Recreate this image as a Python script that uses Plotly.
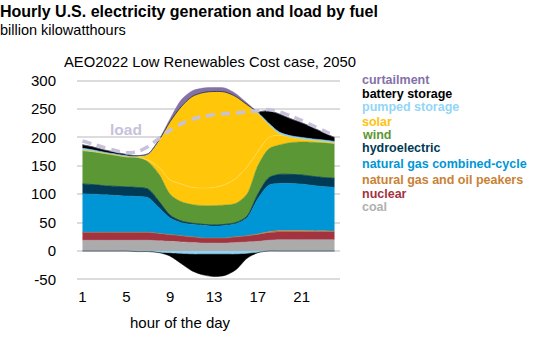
import plotly.graph_objects as go

# ---------------- data (billion kWh, hourly, hours 1..24) ----------------
hours = list(range(1, 25))
coal = [19, 19, 19, 19, 19, 19, 19, 18, 17, 16, 15, 14, 14, 14, 15, 16, 17, 19, 20, 20, 20, 20, 20, 20]
nuclear = [14, 14, 14, 14, 14, 14, 14, 13, 12, 11, 10, 9, 9, 9, 10, 11, 12, 13, 14, 14, 14, 14, 14, 14]
peakers = [0, 0, 0, 0, 0, 0, 0, 0, 0, 0, 0, 0, 0, 0, 0, 0, 1, 2, 2, 2, 2, 1.5, 1.5, 1]
ngcc = [68, 67, 66, 65, 64, 63, 61, 45, 29, 23, 22, 22, 21, 22, 23, 31, 62, 82, 83, 83, 82, 80, 78, 77]
hydro = [17, 17, 16, 16, 16, 16, 15, 11, 5, 3, 2, 2, 2, 2, 2, 3, 8, 13, 16, 16, 16, 16, 16, 16]
wind = [59, 58, 57, 55, 53, 53, 48, 48, 37, 34, 33, 33, 34, 34, 34, 39, 50, 51, 52, 56, 58, 60, 61, 61]
solar_a = [0, 0, 0, 0, 0, 0, 3, 12, 25, 31, 30, 31, 32, 36, 44, 48, 25, 20, 17, 9, 5, 3, 2, 1]
solar_b = [0, 0, 0, 0, 0, 1, 10, 48, 103, 136, 160, 168, 169, 163, 144, 110, 67, 22, 2, 0, 0, 0, 0, 0]
pumped_pos = [4, 3, 2, 2, 2, 1, 0.5, 0, 0, 0, 0, 0, 0, 0, 0, 0, 2, 3, 3, 3, 3, 3, 3, 3]
battery_pos = [6, 5, 4, 3, 2, 1, 1, 1, 0, 0, 0, 0, 0, 0, 0, 0, 2, 22, 32, 30, 26, 20, 13, 7]
curtailment = [0, 0, 0, 0, 0, 0, 0, 1, 5, 12, 10, 8, 7, 7, 5, 3, 0, 0, 0, 0, 0, 0, 0, 0]
pumped_neg = [0, 0, 0, 0, 0, -1, -1, -2, -3, -4, -5, -5, -5, -5, -5, -4, -2, 0, 0, 0, 0, 0, 0, 0]
battery_neg = [0, 0, 0, 0, 0, 0, 0, -1, -6, -18, -30, -37, -40, -38, -28, -9, -1, 0, 0, 0, 0, 0, 0, 0]
load = [194, 188, 182, 177, 173, 175, 184, 199, 213, 224, 232, 237, 240, 242, 243, 245, 247, 249, 245, 238, 230, 221, 212, 203]

y_ticks = [-50, 0, 50, 100, 150, 200, 250, 300]
y_tick_text = ["-50", "0", "50", "100", "150", "200", "250", "300"]
x_ticks = [1, 5, 9, 13, 17, 21]

legend_names = ["curtailment", "battery storage", "pumped storage", "solar", "wind",
                "hydroelectric", "natural gas combined-cycle", "natural gas and oil peakers",
                "nuclear", "coal"]

# ---------------- styles ----------------
C = {
    "coal": "#ababab", "nuclear": "#a3333f", "peakers": "#c98233", "ngcc": "#0096d6",
    "hydro": "#003a54", "wind": "#5b9734", "solar": "#ffc60a", "pumped": "#8cd3f5",
    "battery": "#000000", "curtailment": "#8471a8", "load": "#c8c1da",
}
legend_colors = [C["curtailment"], C["battery"], "#93d6f6", "#ffc20e", C["wind"], C["hydro"],
                 C["ngcc"], C["peakers"], C["nuclear"], "#b0b0b0"]
legend_y = [80, 94, 107, 121.5, 135, 148, 164, 180, 193.5, 207]

W, H = 546, 353
L, R, T, B = 77, 206, 75, 67
PW, PH = W - L - R, H - T - B
FONT = "Liberation Sans, Arial, sans-serif"


def px(x):
    return (x - L) / PW


def py(y):
    return (H - B - y) / PH


fig = go.Figure()

pos = [
    (coal, C["coal"], 0.5, C["coal"]),
    (nuclear, C["nuclear"], 0.5, C["nuclear"]),
    (peakers, C["peakers"], 0.5, C["peakers"]),
    (ngcc, C["ngcc"], 0.5, C["ngcc"]),
    (hydro, C["hydro"], 0.8, C["hydro"]),
    (wind, C["wind"], 0.5, C["wind"]),
    (solar_a, C["solar"], 0.6, "#ffdc6a"),
    (solar_b, C["solar"], 0.5, C["solar"]),
    (pumped_pos, C["pumped"], 0.6, C["pumped"]),
    (battery_pos, C["battery"], 0.6, C["battery"]),
    (curtailment, C["curtailment"], 0.5, C["curtailment"]),
]
for vals, col, lw, lc in pos:
    fig.add_trace(go.Scatter(
        x=hours, y=vals, stackgroup="pos", mode="lines",
        line=dict(width=lw, color=lc, shape="spline", smoothing=0.8),
        fillcolor=col, showlegend=False, hoverinfo="skip"))

for vals, col in [(pumped_neg, C["pumped"]), (battery_neg, C["battery"])]:
    fig.add_trace(go.Scatter(
        x=hours, y=vals, stackgroup="neg", mode="lines",
        line=dict(width=0.5, color=col, shape="spline", smoothing=0.8),
        fillcolor=col, showlegend=False, hoverinfo="skip"))

fig.add_trace(go.Scatter(
    x=hours, y=load, mode="lines",
    line=dict(width=3.5, color=C["load"], dash="9px,6px", shape="spline", smoothing=0.8),
    showlegend=False, hoverinfo="skip"))

ann = []
ann.append(dict(text="<b>Hourly U.S. electricity generation and load by fuel</b>",
                x=px(-2), y=py(12), xanchor="left", yanchor="middle",
                font=dict(size=16, color="#000", family=FONT)))
ann.append(dict(text="billion kilowatthours", x=px(-2), y=py(30), xanchor="left", yanchor="middle",
                font=dict(size=14.5, color="#000", family=FONT)))
ann.append(dict(text="AEO2022 Low Renewables Cost case, 2050", x=px(210), y=py(62),
                xanchor="center", yanchor="middle", font=dict(size=14.8, color="#000", family=FONT)))
ann.append(dict(text="hour of the day", x=px(180), y=py(322), xanchor="center", yanchor="middle",
                font=dict(size=15, color="#000", family=FONT)))
ann.append(dict(text="<b>load</b>", x=px(108), y=py(129), xanchor="left", yanchor="middle",
                font=dict(size=15.5, color=C["load"], family=FONT)))
for name, col, yy in zip(legend_names, legend_colors, legend_y):
    ann.append(dict(text="<b>" + name + "</b>", x=px(360), y=py(yy), xanchor="left", yanchor="middle",
                    font=dict(size=12.5, color=col, family=FONT)))
for a in ann:
    a.update(xref="paper", yref="paper", showarrow=False)

fig.update_layout(
    width=W, height=H, margin=dict(l=L, r=R, t=T, b=B, pad=0),
    paper_bgcolor="white", plot_bgcolor="white",
    annotations=ann, showlegend=False,
    xaxis=dict(range=[0.5, 24.5], tickvals=x_ticks, showgrid=False, zeroline=False, showline=False,
               ticks="", tickfont=dict(size=15, color="#000", family=FONT)),
    yaxis=dict(range=[-61.6, 310], tickvals=y_ticks, ticktext=y_tick_text, showgrid=True,
               gridcolor="#dcdcdc", gridwidth=1.5, zeroline=True, zerolinecolor="#dcdcdc",
               zerolinewidth=1.5, showline=False, ticks="outside", ticklen=17,
               tickcolor="rgba(0,0,0,0)", tickfont=dict(size=15, color="#000", family=FONT)),
)

fig.write_html("out.html")
